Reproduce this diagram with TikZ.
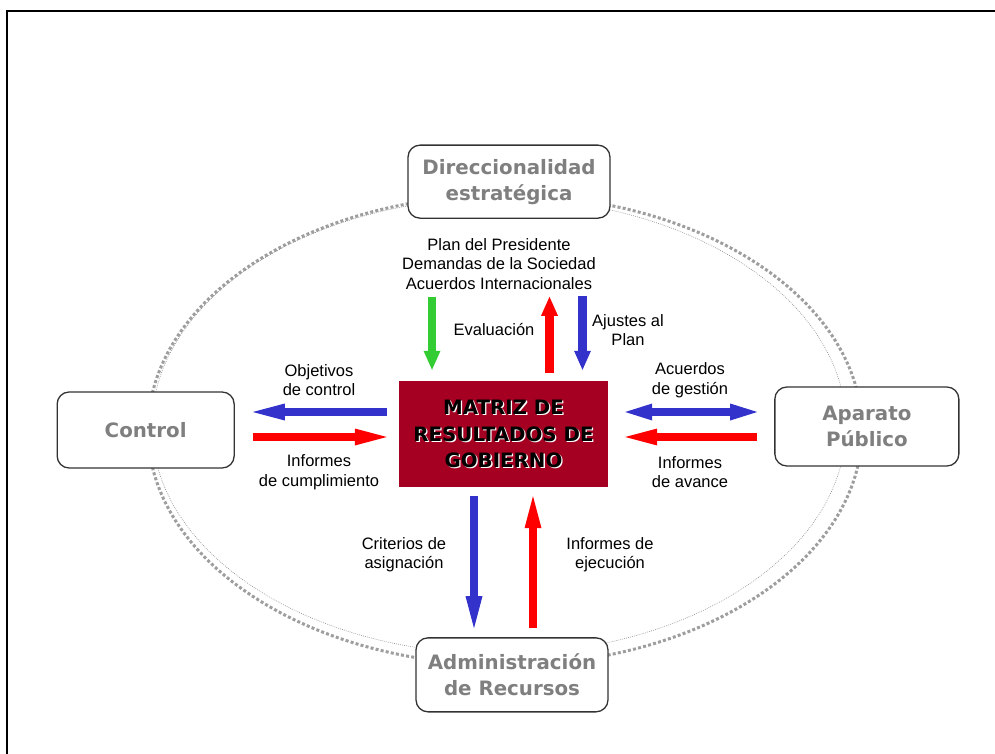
\documentclass[tikz,border=0pt]{standalone}
\usepackage{fontspec}
\setmainfont{Liberation Sans}
\newfontfamily\verdana{DejaVu Sans}
\usetikzlibrary{positioning,arrows.meta}

\definecolor{azul}{HTML}{3333CC}
\definecolor{rojo}{HTML}{FF0000}
\definecolor{verde}{HTML}{33CC33}
\definecolor{granate}{HTML}{A50021}
\definecolor{gristxt}{HTML}{7F7F7F}

\begin{document}
\begin{tikzpicture}[x=1pt, y=1pt,
  caja/.style={draw=black!80, line width=1.3pt, fill=white, rounded corners=12pt,
               align=center, text=gristxt, font=\verdana\bfseries\fontsize{19.8}{26}\selectfont},
  etiq/.style={align=center, font=\fontsize{16.5}{19.5}\selectfont},
  centro/.style={align=center, font=\verdana\bfseries\fontsize{19.8}{26.5}\selectfont},
  flecha/.style={line width=8.5pt, -{Triangle[length=32pt, width=17pt, line width=0pt]}},
  flechac/.style={line width=8.5pt, -{Triangle[length=19pt, width=17pt, line width=0pt]}},
  ]
  \useasboundingbox (0,0) rectangle (995,-754);
  % marco
  \draw[line width=2pt] (6.5,-754) -- (6.5,-11) -- (995,-11);

  % elipses punteadas
  \draw[black!38, line width=3pt, dash pattern=on 3pt off 2.2pt] (505,-430) ellipse [x radius=357, y radius=235];
  \draw[black!45, line width=0.6pt, dash pattern=on 0.8pt off 1.2pt] (499,-426) ellipse [x radius=347, y radius=228];

  % matriz central
  \node[fill=granate, minimum width=209pt, minimum height=106pt] (mrg) at (503.5,-434) {};
  \node[centro, white] (mrgsombra) at ([shift={(1.3,-1.3)}]mrg.center) {MATRIZ DE\\RESULTADOS DE\\GOBIERNO};
  \node[centro, black] (mrgtxt) at (mrg.center) {MATRIZ DE\\RESULTADOS DE\\GOBIERNO};

  % cajas exteriores
  \node[caja, minimum width=202pt, minimum height=73pt, above=162pt of mrg, xshift=5.5pt] (dir) {Direccionalidad\\estratégica};
  \node[caja, minimum width=177pt, minimum height=76pt, left=164pt of mrg, yshift=4pt] (ctrl) {Control};
  \node[caja, minimum width=184pt, minimum height=79pt, right=166pt of mrg, yshift=7.5pt] (apar) {Aparato\\Público};
  \node[caja, minimum width=192pt, minimum height=74pt, below=150pt of mrg, xshift=8.5pt] (adm) {Administración\\de Recursos};

  % etiquetas
  \node[etiq] (lplan) at (499,-264) {Plan del Presidente\\Demandas de la Sociedad\\Acuerdos Internacionales};
  \node[etiq] (leval) at (494,-330) {Evaluación};
  \node[etiq] (lajus) at (628,-330) {Ajustes al\\Plan};
  \node[etiq] (lobj) at (319,-380) {Objetivos\\de control};
  \node[etiq] (linfc) at (319,-472) {Informes\\de cumplimiento};
  \node[etiq] (lacu) at (690,-380) {Acuerdos\\de gestión};
  \node[etiq] (linfa) at (690,-472) {Informes\\de avance};
  \node[etiq] (lcrit) at (404,-554.5) {Criterios de\\asignación};
  \node[etiq] (linfe) at (610,-554.5) {Informes de\\ejecución};

  % flechas arriba
  \draw[flechac, verde, shorten <=78pt, shorten >=11pt] ([xshift=-77pt]dir.south) -- ([xshift=-71.5pt]mrg.north);
  \draw[flechac, rojo, shorten <=8pt, shorten >=78pt] ([xshift=46pt]mrg.north) -- ([xshift=40.5pt]dir.south);
  \draw[flechac, azul, shorten <=77pt, shorten >=11pt] ([xshift=73.5pt]dir.south) -- ([xshift=79pt]mrg.north);

  % flechas izquierda
  \draw[flecha, azul, shorten <=12pt, shorten >=18pt] ([yshift=22pt]mrg.west) -- ([yshift=18pt]ctrl.east);
  \draw[flecha, rojo, shorten <=18pt, shorten >=12pt] ([yshift=-7pt]ctrl.east) -- ([yshift=-3pt]mrg.west);

  % flechas derecha
  \draw[line width=8.5pt, {Triangle[length=27pt, width=17pt, line width=0pt]}-{Triangle[length=27pt, width=17pt, line width=0pt]},
        azul, shorten <=17pt, shorten >=17pt] ([yshift=22pt]mrg.east) -- ([yshift=14.5pt]apar.west);
  \draw[flecha, rojo, shorten <=17pt, shorten >=17pt] ([yshift=-10.5pt]apar.west) -- ([yshift=-3pt]mrg.east);

  % flechas abajo
  \draw[flecha, azul, shorten <=9pt, shorten >=9pt] ([xshift=-29.5pt]mrg.south) -- ([xshift=-38pt]adm.north);
  \draw[flecha, rojo, shorten <=9pt, shorten >=9pt] ([xshift=21pt]adm.north) -- ([xshift=29.5pt]mrg.south);
\end{tikzpicture}
\end{document}
